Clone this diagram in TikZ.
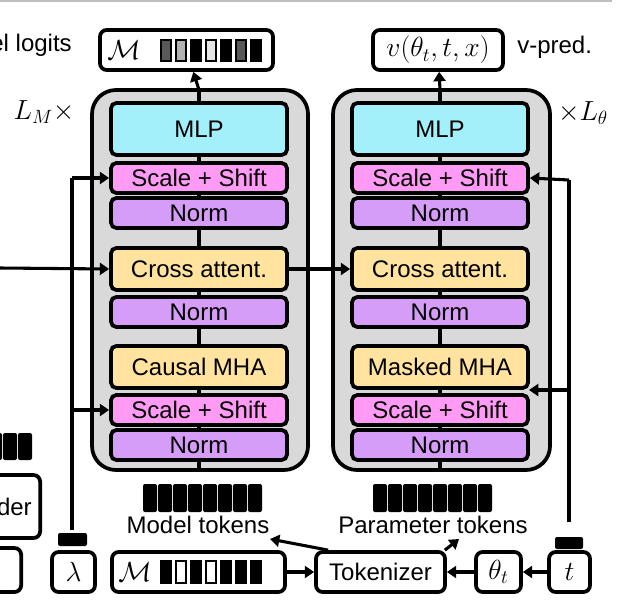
\documentclass[tikz,border=0pt]{standalone}
\usepackage{fontspec}
\setmainfont{Liberation Sans}
\usetikzlibrary{positioning,arrows.meta}
\def\px{0.75pt}
\definecolor{mlpc}{HTML}{A3F0FA}
\definecolor{ssc}{HTML}{FF9BF5}
\definecolor{normc}{HTML}{D59CF8}
\definecolor{attc}{HTML}{FFE39E}
\definecolor{blockc}{HTML}{D9D9D9}
\tikzset{
  lay/.style={draw, line width=2.8pt, rounded corners=4pt, minimum width=176*\px, inner sep=0pt, font=\fontsize{18}{20}\selectfont},
  box/.style={draw, line width=2.8pt, rounded corners=5pt, fill=white, inner sep=0pt, font=\fontsize{21}{23}\selectfont},
  blk/.style={draw, line width=2.8pt, rounded corners=18pt, fill=blockc},
  tok/.style={fill=black, rounded corners=1.5pt},
  arr/.style={line width=2.3pt, -{Triangle[length=7pt,width=9pt]}},
  ln/.style={line width=2.3pt},
  lbl/.style={font=\fontsize{18}{20}\selectfont, inner sep=0pt},
  mlbl/.style={font=\fontsize{21}{23}\selectfont, inner sep=0pt}
}
\begin{document}
\begin{tikzpicture}[x=0.75pt, y=-0.75pt]
	\useasboundingbox (0,0) rectangle (638,613);
	\draw [line width=1pt, gray!50] (0,1) -- (612,1);
	
	% blocks
	\draw [blk] (92,90) rectangle (308,470);
	\draw [blk] (333,90) rectangle (550,470);
	\draw [ln] (199,92) -- (199,468);
	\draw [ln] (440,92) -- (440,468);
	
	% left block layers
	\node [lay, fill=mlpc, minimum height=52*\px] (mlpM) at (199,129) {MLP};
	\node [lay, fill=ssc, minimum height=30*\px] (ssM1) at (199,178) {Scale + Shift};
	\node [lay, fill=normc, minimum height=30*\px] (nM1) at (199,213) {Norm};
	\node [lay, fill=attc, minimum height=42*\px] (caM) at (199,269) {Cross attent.};
	\node [lay, fill=normc, minimum height=30*\px] (nM2) at (199,312) {Norm};
	\node [lay, fill=attc, minimum height=42*\px] (mhaM) at (199,367) {Causal MHA};
	\node [lay, fill=ssc, minimum height=30*\px] (ssM2) at (199,410) {Scale + Shift};
	\node [lay, fill=normc, minimum height=30*\px] (nM3) at (199,445) {Norm};
	
	% right block layers
	\node [lay, fill=mlpc, minimum height=52*\px] (mlpP) at (440,129) {MLP};
	\node [lay, fill=ssc, minimum height=30*\px] (ssP1) at (440,178) {Scale + Shift};
	\node [lay, fill=normc, minimum height=30*\px] (nP1) at (440,213) {Norm};
	\node [lay, fill=attc, minimum height=42*\px] (caP) at (440,269) {Cross attent.};
	\node [lay, fill=normc, minimum height=30*\px] (nP2) at (440,312) {Norm};
	\node [lay, fill=attc, minimum height=42*\px] (mhaP) at (440,367) {Masked MHA};
	\node [lay, fill=ssc, minimum height=30*\px] (ssP2) at (440,410) {Scale + Shift};
	\node [lay, fill=normc, minimum height=30*\px] (nP3) at (440,445) {Norm};
	
	% outputs
	\node [box, minimum width=173*\px, minimum height=40*\px] (logits) at (186.5,50) {};
	\node [mlbl, right] at (107,50) {$\mathcal{M}$};
	\foreach \c [count=\i] in {black!65, black!30, black, black!10, black, black!65, black}
		\draw [fill=\c, line width=1pt] (146+\i*15,40) rectangle ++(10,21);
	\node [box, minimum width=130*\px, minimum height=40*\px] (vpred) at (438,50) {$v(\theta_t,t,x)$};
	\node [lbl, left] at (72,45) {el logits};
	\node [lbl, right] at (517,47) {v-pred.};
	\node [mlbl] at (44,112) {$L_M\times$};
	\node [mlbl] at (583,113) {$\times L_\theta$};
	\coordinate (topM) at (199,90);
	\coordinate (topP) at (440,90);
	\draw [arr] (topM) -- (logits);
	\draw [arr] (topP) -- (vpred);
	
	% tokens
	\foreach \i in {0,...,7} {
		\fill [tok] (143+\i*15,484) rectangle ++(14,28);
		\fill [tok] (373+\i*15,484) rectangle ++(14,28);
	}
	\foreach \i in {0,...,3}
		\fill [tok] (-27+\i*15,433) rectangle ++(14,27);
	\node [lbl] (mtok) at (198,525) {Model tokens};
	\node [lbl] (ptok) at (433,525) {Parameter tokens};
	
	% bottom row
	\node [box, minimum width=43*\px, minimum height=40*\px] (lam) at (73.5,572) {$\lambda$};
	\fill [tok] (58,533) rectangle (87,546);
	\node [box, minimum width=173*\px, minimum height=40*\px] (mIn) at (198.5,572) {};
	\node [mlbl, right] at (118,572) {$\mathcal{M}$};
	\foreach \c [count=\i] in {black, white, black, white, black, black, black}
		\draw [fill=\c, line width=1pt] (146+\i*15,561) rectangle ++(10,22);
	\node [box, font=\fontsize{18}{20}\selectfont, minimum width=129*\px, minimum height=40*\px] (tokz) at (380.5,572) {Tokenizer};
	\node [box, minimum width=45*\px, minimum height=40*\px] (th) at (498.5,572) {$\theta_t$};
	\node [box, minimum width=41*\px, minimum height=40*\px] (tt) at (569.5,572) {$t$};
	\fill [tok] (555,537) rectangle (583,549);
	
	% cut-off boxes at left edge
	\node [box, minimum width=80*\px, minimum height=63*\px, anchor=east] (enc) at (42,506.5) {};
	\node [lbl, anchor=east] at (32,506.5) {der};
	\node [box, minimum width=60*\px, minimum height=44*\px, anchor=east] (cond) at (23,570) {};
	
	\draw [arr] (mIn) -- (tokz);
	\draw [arr] (th) -- (tokz);
	\draw [arr] (tt) -- (th);
	\draw [arr] (tokz.north west) ++(14,0) -- (270,539);
	\draw [arr] (tokz.north east) ++(-2,0) -- (459,539);
	
	% conditioning lines
	\coordinate (lamTop) at (72,530);
	\coordinate (tTop) at (569,522);
	\draw [ln] (lamTop) -- (72,178);
	\draw [arr] (72,178) -- (ssM1.west);
	\draw [arr] (72,410) -- (ssM2.west);
	\draw [ln] (tTop) -- (569,180);
	\draw [arr] (569,180) -- (ssP1.east);
	\draw [arr] (569,390) -- (529,390);
	
	% cross attention
	\coordinate (ctxIn) at (0,268);
	\draw [arr] (ctxIn) -- (caM.west);
	\draw [arr] (caM.east) -- (caP.west);
\end{tikzpicture}
\end{document}
